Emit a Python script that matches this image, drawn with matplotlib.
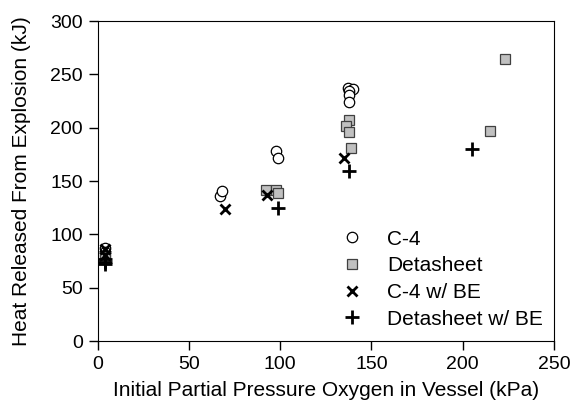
import matplotlib
matplotlib.use("Agg")
import matplotlib.pyplot as plt

plt.rcParams['font.family'] = ['Liberation Sans', 'DejaVu Sans']

# C-4
c4_x = [4, 4, 67, 68, 98, 99, 137, 140, 138, 138, 138]
c4_y = [87, 84, 136, 141, 178, 172, 237, 236, 234, 231, 224]

# Detasheet
det_x = [4, 4, 92, 98, 99, 138, 136, 138, 139, 215, 223]
det_y = [80, 77, 142, 142, 139, 207, 202, 196, 181, 197, 264]

# C-4 w/ BE
c4be_x = [4, 4, 70, 93, 135]
c4be_y = [86, 81, 124, 137, 172]

# Detasheet w/ BE
detbe_x = [4, 4, 4, 99, 138, 205]
detbe_y = [77, 74, 72, 125, 159, 180]

fig = plt.figure(figsize=(5.71, 4.13), dpi=100)
ax = fig.add_axes([0.171, 0.174, 0.799, 0.775])

ax.plot(c4_x, c4_y, 'o', ms=7.5, mfc='white', mec='black', mew=0.9, label='C-4')
ax.plot(det_x, det_y, 's', ms=7, mfc='#c0c0c0', mec='#404040', mew=0.9, label='Detasheet')
ax.plot(c4be_x, c4be_y, 'x', ms=7.5, color='black', mew=2, label='C-4 w/ BE')
ax.plot(detbe_x, detbe_y, '+', ms=10, color='black', mew=2, label='Detasheet w/ BE')

ax.set_xlim(0, 250)
ax.set_ylim(0, 300)
ax.set_xticks([0, 50, 100, 150, 200, 250])
ax.set_yticks([0, 50, 100, 150, 200, 250, 300])
ax.tick_params(direction='out', length=6.5, width=1, labelsize=14, pad=4)
ax.set_xlabel('Initial Partial Pressure Oxygen in Vessel (kPa)', fontsize=15, labelpad=6)
ax.set_ylabel('Heat Released From Explosion (kJ)', fontsize=15, labelpad=14)

ax.legend(frameon=False, loc='lower left', bbox_to_anchor=(0.494, -0.02),
          fontsize=15, handlelength=1.0, handletextpad=1.18, labelspacing=0.37,
          numpoints=1, borderpad=0.4)

fig.savefig('out.png', dpi=100)
